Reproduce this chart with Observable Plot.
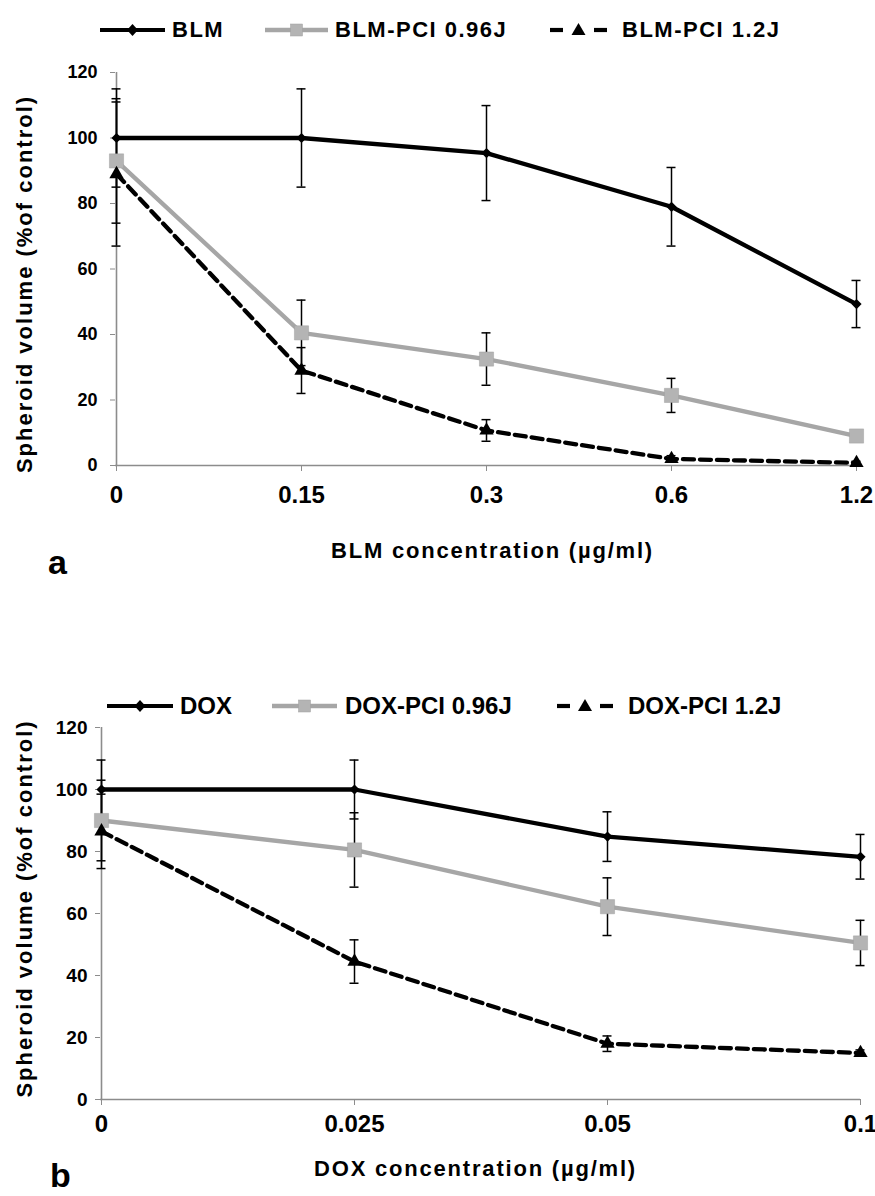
<!DOCTYPE html>
<html>
<head>
<meta charset="utf-8">
<script src="https://cdn.jsdelivr.net/npm/d3@7"></script>
<script src="https://cdn.jsdelivr.net/npm/@observablehq/plot@0.6"></script>
<style>
  html, body { margin: 0; padding: 0; background: #fff; }
  body { width: 875px; height: 1196px; position: relative; overflow: hidden;
         font-family: "Liberation Sans", Arial, sans-serif; font-weight: bold; color: #000; }
  .legend { position: absolute; left: 0; width: 875px; height: 30px; }
  .item { position: absolute; top: 0; height: 30px; display: flex; align-items: center; white-space: nowrap; }
  .item svg { display: block; }
  .legA .lab { font-size: 22px; letter-spacing: 1.5px; }
  .legB .lab { font-size: 24px; }
  .panel { position: absolute; left: 0; }
</style>
</head>
<body>
<div id="legA" class="legend legA" style="top:15px"></div>
<div id="panelA" class="panel" style="top:45px"></div>
<div id="legB" class="legend legB" style="top:691px"></div>
<div id="panelB" class="panel" style="top:715px"></div>
<script>
// ---------------- data ----------------
const yTicks = [0, 20, 40, 60, 80, 100, 120];
const yTitle = "Spheroid volume (%of control)";

const concA = ["0", "0.15", "0.3", "0.6", "1.2"];
const seriesA = ["BLM", "BLM-PCI 0.96J", "BLM-PCI 1.2J"];
const blm = [100, 100, 95.4, 79, 49.3];
const blmErr = [15, 15, 14.5, 12, 7.2];
const blmPci096 = [93, 40.5, 32.5, 21.4, 9];
const blmPci096Err = [19, 10, 8, 5.2, 1.5];
const blmPci12 = [89, 29, 10.7, 2, 0.8];
const blmPci12Err = [22, 7, 3.3, 1, 0.5];

const concB = ["0", "0.025", "0.05", "0.1"];
const seriesB = ["DOX", "DOX-PCI 0.96J", "DOX-PCI 1.2J"];
const dox = [100, 100, 84.8, 78.3];
const doxErr = [9.5, 9.5, 8, 7.2];
const doxPci096 = [90, 80.5, 62.2, 50.5];
const doxPci096Err = [13, 12, 9.3, 7.3];
const doxPci12 = [86.5, 44.5, 18, 15];
const doxPci12Err = [12, 7, 2.5, 1];

// ---------------- styles ----------------
const styles = [
  { stroke: "#000", dash: null, symbol: "diamond2", fill: "#000", r: 4.6 },
  { stroke: "#a6a6a6", dash: null, symbol: "square", fill: "#b4b4b4", r: 8 },
  { stroke: "#000", dash: "11,6", symbol: "triangle", fill: "#000", r: 5.3 }
];
const axisGray = "#8c8c8c";

function rowsFor(conc, vals, errs) {
  return conc.map((c, j) => ({ c, v: vals[j], lo: vals[j] - errs[j], hi: vals[j] + errs[j] }));
}

function legend(el, names, lefts, swW, gaps) {
  names.forEach((name, i) => {
    const s = styles[i];
    const w = swW[i];
    let inner = "";
    const cy = 15;
    if (i === 0) {
      inner = `<line x1="0" x2="${w}" y1="${cy}" y2="${cy}" stroke="#000" stroke-width="4.2"/>
               <path d="M${w/2},${cy-6} L${w/2+5.5},${cy} L${w/2},${cy+6} L${w/2-5.5},${cy} Z" fill="#000"/>`;
    } else if (i === 1) {
      inner = `<line x1="0" x2="${w}" y1="${cy}" y2="${cy}" stroke="${s.stroke}" stroke-width="4.5"/>
               <rect x="${w/2-6}" y="${cy-6}" width="12" height="12" fill="${s.fill}" stroke="#a0a0a0" stroke-width="0.5"/>`;
    } else {
      inner = `<line x1="0" x2="13" y1="${cy}" y2="${cy}" stroke="#000" stroke-width="4.2"/>
               <line x1="${w-13}" x2="${w}" y1="${cy}" y2="${cy}" stroke="#000" stroke-width="4.2"/>
               <path d="M${w/2},${cy-7} L${w/2+7},${cy+5} L${w/2-7},${cy+5} Z" fill="#000"/>`;
    }
    const item = document.createElement("div");
    item.className = "item";
    item.style.left = lefts[i] + "px";
    item.innerHTML = `<svg width="${w}" height="30">${inner}</svg><span class="lab" style="margin-left:${gaps[i]}px">${name}</span>`;
    el.appendChild(item);
  });
}

function panel(cfg) {
  const all = cfg.series.map((vals, i) => rowsFor(cfg.conc, vals, cfg.errs[i]));
  const marks = [
    Plot.ruleY([0], { stroke: axisGray, strokeWidth: 1.6 }),
    Plot.ruleX([cfg.conc[0]], { y1: 0, y2: 120, stroke: axisGray, strokeWidth: 1.6 }),
    Plot.axisY({ ticks: yTicks, tickSize: 5, tickPadding: cfg.yPad, fontSize: cfg.yFont, stroke: axisGray, label: null }),
    Plot.axisX({ tickSize: 6, tickPadding: cfg.xPad, fontSize: 24, fontFamily: cfg.xFamily, stroke: axisGray, label: null })
  ];
  // error bars
  all.forEach(rows => {
    marks.push(Plot.ruleX(rows, { x: "c", y1: "lo", y2: "hi", stroke: "#000", strokeWidth: 1.5 }));
    marks.push(Plot.ruleY(rows, { x1: "c", x2: "c", y: "hi", insetLeft: -4.5, insetRight: -4.5, stroke: "#000", strokeWidth: 1.5 }));
    marks.push(Plot.ruleY(rows, { x1: "c", x2: "c", y: "lo", insetLeft: -4.5, insetRight: -4.5, stroke: "#000", strokeWidth: 1.5 }));
  });
  // lines (grey first, then dashed, then black on top)
  [1, 2, 0].forEach(i => {
    const s = styles[i];
    marks.push(Plot.line(all[i], { x: "c", y: "v", stroke: s.stroke, strokeWidth: 4.3, strokeDasharray: s.dash }));
  });
  [1, 2, 0].forEach(i => {
    const s = styles[i];
    marks.push(Plot.dot(all[i], { x: "c", y: "v", symbol: () => s.symbol, r: s.r, fill: s.fill, stroke: i === 1 ? "#a0a0a0" : "none", strokeWidth: 0.5 }));
  });
  // titles
  marks.push(Plot.text([yTitle], { frameAnchor: "left", dx: cfg.yTitleDx, dy: cfg.yTitleDy, rotate: -90, textAnchor: "middle", lineAnchor: "middle", fontSize: 22 }));
  marks.push(Plot.text([cfg.xTitle], { frameAnchor: "bottom", dx: cfg.xTitleDx, dy: cfg.xTitleDy, textAnchor: "middle", lineAnchor: "middle", fontSize: 22 }));
  marks.push(Plot.text([cfg.tag], { frameAnchor: "bottom-left", dx: cfg.tagDx, dy: cfg.tagDy, textAnchor: "middle", lineAnchor: "middle", fontSize: 34 }));

  const svg = Plot.plot({
    width: 875, height: cfg.height,
    marginTop: cfg.mt, marginBottom: cfg.mb, marginLeft: cfg.ml, marginRight: cfg.mr,
    style: { fontFamily: '"Liberation Sans", Arial, sans-serif', fontWeight: "bold", color: "#000", background: "#fff", overflow: "visible" },
    x: { type: "point", domain: cfg.conc, padding: 0 },
    y: { domain: [0, 120] },
    marks
  });
  // letter spacing to match the wide lettering of the original titles
  svg.querySelectorAll("text").forEach(t => {
    if (t.textContent === yTitle) t.style.letterSpacing = "2px";
    if (t.textContent === cfg.xTitle) t.style.letterSpacing = "1.8px";
  });
  return svg;
}

legend(document.getElementById("legA"), seriesA, [100, 265, 550], [65, 63, 57], [7, 7, 15]);
legend(document.getElementById("legB"), seriesB, [107, 272, 557], [66, 65, 56], [7, 8, 15]);

document.getElementById("panelA").appendChild(panel({
  conc: concA,
  series: [blm, blmPci096, blmPci12],
  errs: [blmErr, blmPci096Err, blmPci12Err],
  height: 530, mt: 27, mb: 110, ml: 115, mr: 18,
  yPad: 13, yFont: 18, xPad: 14, xFamily: '"Liberation Sans", Arial, sans-serif',
  yTitleDx: -91, yTitleDy: 15,
  xTitle: "BLM concentration (\u00b5g/ml)", xTitleDx: 6, xTitleDy: 85,
  tag: "a", tagDx: -58, tagDy: 98
}));

document.getElementById("panelB").appendChild(panel({
  conc: concB,
  series: [dox, doxPci096, doxPci12],
  errs: [doxErr, doxPci096Err, doxPci12Err],
  height: 481, mt: 12, mb: 97, ml: 100, mr: 15,
  yPad: 8, yFont: 19, xPad: 9, xFamily: '"Liberation Sans Narrow", "Liberation Sans", Arial, sans-serif',
  yTitleDx: -76, yTitleDy: -5,
  xTitle: "DOX concentration (\u00b5g/ml)", xTitleDx: -5, xTitleDy: 69,
  tag: "b", tagDx: -40, tagDy: 77
}));
</script>
</body>
</html>
